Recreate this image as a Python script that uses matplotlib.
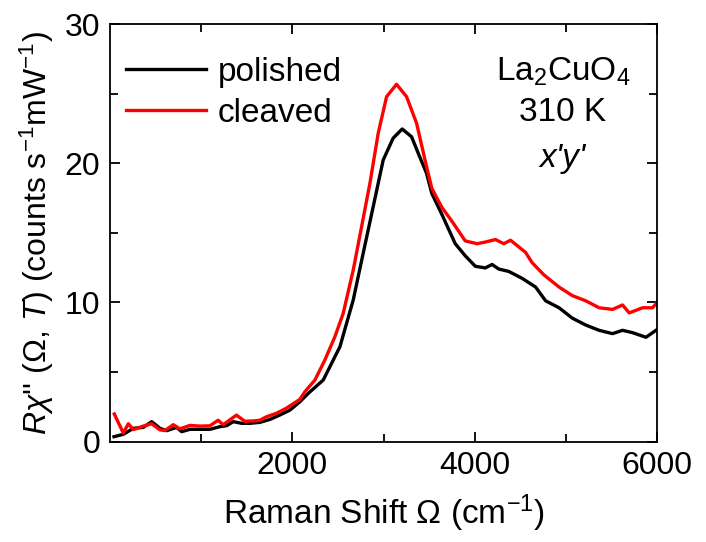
import numpy as np
import matplotlib
matplotlib.use("Agg")
import matplotlib.pyplot as plt

plt.rcParams['font.family'] = ['Liberation Sans', 'DejaVu Sans']
plt.rcParams['mathtext.fontset'] = 'custom'
plt.rcParams['mathtext.rm'] = 'Liberation Sans'
plt.rcParams['mathtext.it'] = 'Liberation Sans:italic'

# ---- data (Raman shift in cm^-1, intensity) ----
polished_shift = [44, 146, 256, 366, 457, 548, 621, 731, 786, 877, 987, 1097, 1206,
                  1279, 1352, 1444, 1535, 1645, 1754, 1864, 1974, 2083, 2175, 2339,
                  2522, 2668, 2777, 2887, 2997, 3106, 3205, 3308, 3381, 3472, 3530,
                  3640, 3787, 3897, 4007, 4117, 4191, 4264, 4374, 4521, 4668, 4778,
                  4925, 5072, 5218, 5365, 5512, 5622, 5732, 5879, 6000]
polished_int = [0.36, 0.53, 0.96, 1.03, 1.44, 0.96, 0.79, 1.03, 0.72, 0.89, 0.89, 0.89,
                1.08, 1.15, 1.44, 1.32, 1.32, 1.39, 1.60, 1.92, 2.27, 2.87, 3.47, 4.43,
                6.82, 10.18, 13.53, 16.88, 20.24, 21.8, 22.46, 21.9, 20.72, 19.28, 17.83,
                16.33, 14.22, 13.35, 12.6, 12.48, 12.73, 12.4, 12.23, 11.73, 11.11, 10.12,
                9.62, 8.87, 8.38, 8.0, 7.76, 8.0, 7.83, 7.5, 8.05]

cleaved_shift = [47, 146, 201, 256, 365, 456, 548, 602, 694, 767, 876, 986, 1095, 1186,
                 1241, 1387, 1478, 1570, 1643, 1716, 1825, 1935, 2081, 2138, 2248, 2357,
                 2467, 2558, 2668, 2760, 2851, 2942, 3034, 3143, 3253, 3363, 3472, 3530,
                 3640, 3750, 3897, 4026, 4117, 4228, 4319, 4393, 4558, 4631, 4760, 4925,
                 5072, 5218, 5365, 5512, 5622, 5695, 5842, 5952, 6000]
cleaved_int = [1.99, 0.62, 1.29, 0.87, 1.12, 1.29, 0.85, 0.8, 1.22, 0.92, 1.17, 1.12,
               1.14, 1.54, 1.22, 1.91, 1.47, 1.49, 1.54, 1.79, 2.04, 2.41, 3.03, 3.59,
               4.43, 5.87, 7.54, 9.22, 12.33, 15.45, 18.56, 22.16, 24.78, 25.67, 24.78,
               22.87, 19.76, 18.2, 16.83, 15.84, 14.42, 14.22, 14.34, 14.52, 14.22, 14.47,
               13.6, 12.85, 11.98, 11.11, 10.49, 10.12, 9.62, 9.5, 9.82, 9.25, 9.62,
               9.62, 10.0]

x_ticks = [2000, 4000, 6000]
y_ticks = [0, 10, 20, 30]

fs = 23

fig = plt.figure(figsize=(7.06, 5.42), dpi=100)
ax = fig.add_axes([110/706, 1-441.7/542, (657-110)/706, (441.7-24)/542])

ax.plot(polished_shift, polished_int, c='black', lw=2.4, label='polished')
ax.plot(cleaved_shift, cleaved_int, c='#ff0000', lw=2.4, label='cleaved')

ax.set_xlim(0, 6000)
ax.set_ylim(0, 30)
ax.set_xticks(x_ticks)
ax.set_yticks(y_ticks)
ax.set_xticks([1000, 3000, 5000], minor=True)
ax.set_yticks([5, 15, 25], minor=True)
ax.tick_params(which='both', direction='in', top=True, right=True, width=1.3,
               labelsize=fs, pad=7)
ax.tick_params(which='major', length=7)
ax.tick_params(which='minor', length=6)
for s in ax.spines.values():
    s.set_linewidth(1.3)

ax.set_xlabel(r'Raman Shift $\Omega$ (cm$^{-1}$)', fontsize=fs + 1, labelpad=8)
ax.set_ylabel(r"$R\chi$'' ($\Omega$, $T$) (counts s$^{-1}$mW$^{-1}$)", fontsize=fs,
              labelpad=6)

ax.legend(loc='upper left', fontsize=fs + 1, frameon=False, handlelength=2.4,
          handletextpad=0.35, borderpad=0, borderaxespad=0, labelspacing=0.3,
          bbox_to_anchor=(0.029, 0.922))

ax.text(0.828, 0.885, r'La$_2$CuO$_4$', transform=ax.transAxes, ha='center',
        va='center', fontsize=fs + 1)
ax.text(0.828, 0.787, '310 K', transform=ax.transAxes, ha='center', va='center',
        fontsize=fs + 1)
ax.text(0.828, 0.677, "x'y'", transform=ax.transAxes, ha='center', va='center',
        fontsize=fs + 1, style='italic')

fig.savefig('out.png', dpi=100)
